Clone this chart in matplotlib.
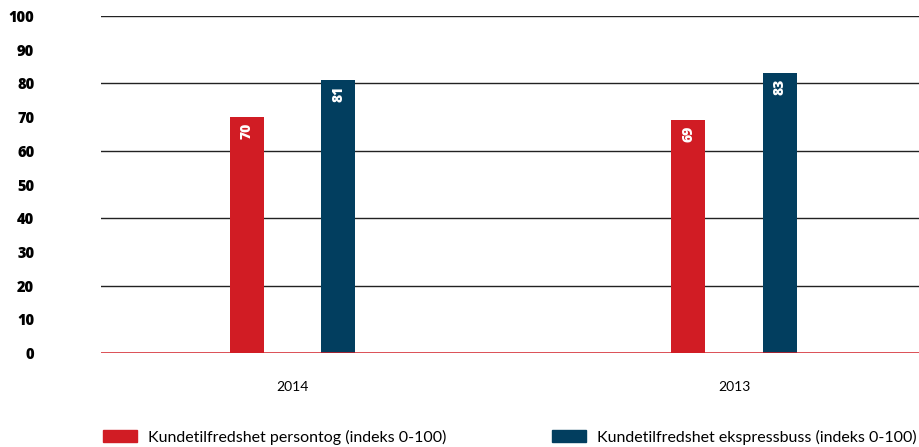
import matplotlib
matplotlib.use("Agg")
import matplotlib.pyplot as plt
import numpy as np
from matplotlib.patches import Patch

categories = ["2014", "2013"]
persontog = [70, 69]
ekspressbuss = [81, 83]
series_names = ["Kundetilfredshet persontog (indeks 0-100)",
                "Kundetilfredshet ekspressbuss (indeks 0-100)"]
yticks = list(range(0, 101, 10))

RED = "#d11c24"
BLUE = "#023e5f"

plt.rcParams['font.family'] = ['Lato', 'DejaVu Sans']
BOLD = ['Open Sans', 'DejaVu Sans']

fig = plt.figure(figsize=(9.19, 4.47), dpi=100)
ax = fig.add_axes([101/919, 1-353/447, 1-101/919, (353-16)/447])

x = np.arange(len(categories))
w = 0.077
off = 0.1036
b1 = ax.bar(x - off, persontog, w, color=RED, zorder=3)
b2 = ax.bar(x + off, ekspressbuss, w, color=BLUE, zorder=3)

for bars, vals in ((b1, persontog), (b2, ekspressbuss)):
    for r, v in zip(bars, vals):
        ax.text(r.get_x() + r.get_width()/2, v - 1.6, str(v), rotation=90,
                ha='center', va='top', color='white', fontsize=10,
                fontweight='heavy', family=BOLD, zorder=4)

ax.set_xlim(-0.434, 1.419)
ax.set_ylim(0, 100)
ax.set_yticks(yticks)
ax.set_yticklabels([str(t) for t in yticks], fontsize=10.5, fontweight='heavy',
                   family=BOLD)
for t in [20, 40, 60, 80, 100]:
    ax.axhline(t, color='#222222', lw=1.0, zorder=1)
ax.axhline(0, color=RED, lw=1.8, zorder=5)
ax.set_xticks(x)
ax.set_xticklabels(categories, fontsize=10)
ax.tick_params(axis='y', length=0, pad=48)
ax.tick_params(axis='x', length=0, pad=20)
for s in ax.spines.values():
    s.set_visible(False)

fs = 11.5
for name, col, xa in ((series_names[0], RED, 103/919), (series_names[1], BLUE, 552/919)):
    fig.legend(handles=[Patch(color=col, label=name)], loc='center left',
               bbox_to_anchor=(xa, 1-437/447), frameon=False, fontsize=fs,
               borderpad=0, borderaxespad=0, handlelength=2.15, handleheight=0.75,
               handletextpad=0.65)

fig.savefig("out.png", dpi=100)
